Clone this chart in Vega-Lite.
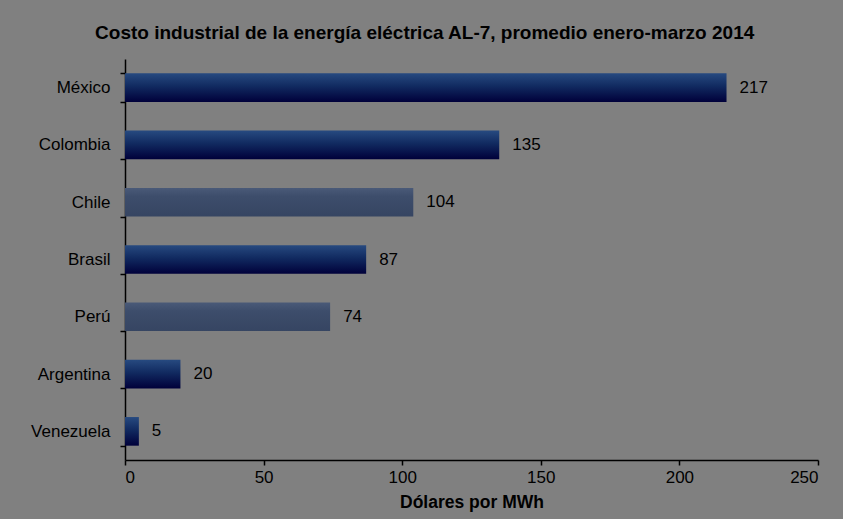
{
  "$schema": "https://vega.github.io/schema/vega-lite/v6.json",
  "width": 693,
  "height": 401,
  "autosize": {"type": "none"},
  "padding": {"left": 125, "top": 59, "right": 25, "bottom": 59},
  "background": "#808080",
  "title": {
    "text": "Costo industrial de la energía eléctrica AL-7, promedio enero-marzo 2014",
    "font": "Liberation Sans",
    "fontSize": 19,
    "fontWeight": "bold",
    "color": "#000000",
    "anchor": "middle",
    "frame": "bounds",
    "offset": 7
  },
  "data": {
    "values": [
      {"pais": "México", "valor": 217, "tipo": "oscuro"},
      {"pais": "Colombia", "valor": 135, "tipo": "oscuro"},
      {"pais": "Chile", "valor": 104, "tipo": "claro"},
      {"pais": "Brasil", "valor": 87, "tipo": "oscuro"},
      {"pais": "Perú", "valor": 74, "tipo": "claro"},
      {"pais": "Argentina", "valor": 20, "tipo": "oscuro"},
      {"pais": "Venezuela", "valor": 5, "tipo": "oscuro"}
    ]
  },
  "encoding": {
    "y": {
      "field": "pais",
      "type": "nominal",
      "sort": ["México", "Colombia", "Chile", "Brasil", "Perú", "Argentina", "Venezuela"],
      "scale": {"paddingInner": 0.5, "paddingOuter": 0.25},
      "axis": {
        "title": null,
        "tickBand": "extent",
        "domainColor": "#000000",
        "domainWidth": 1.5,
        "tickColor": "#000000",
        "tickWidth": 1.5,
        "tickSize": 5,
        "labelFont": "Liberation Sans",
        "labelFontSize": 17,
        "labelColor": "#000000",
        "labelPadding": 10
      }
    },
    "x": {
      "field": "valor",
      "type": "quantitative",
      "scale": {"domain": [0, 250], "nice": false},
      "axis": {
        "title": "Dólares por MWh",
        "values": [0, 50, 100, 150, 200, 250],
        "grid": false,
        "domainColor": "#000000",
        "domainWidth": 1.5,
        "tickColor": "#000000",
        "tickWidth": 1.5,
        "tickSize": 5,
        "labelFont": "Liberation Sans",
        "labelFontSize": 17,
        "labelColor": "#000000",
        "labelPadding": 4,
        "titleFont": "Liberation Sans",
        "titleFontSize": 17.5,
        "titleFontWeight": "bold",
        "titleColor": "#000000",
        "titlePadding": 8
      }
    }
  },
  "layer": [
    {
      "transform": [{"filter": "datum.tipo === 'oscuro'"}],
      "mark": {
        "type": "bar",
        "color": {
          "gradient": "linear",
          "x1": 0, "y1": 0, "x2": 0, "y2": 1,
          "stops": [
            {"offset": 0, "color": "#274a80"},
            {"offset": 0.45, "color": "#112a60"},
            {"offset": 1, "color": "#00003a"}
          ]
        }
      }
    },
    {
      "transform": [{"filter": "datum.tipo === 'claro'"}],
      "mark": {
        "type": "bar",
        "color": {
          "gradient": "linear",
          "x1": 0, "y1": 0, "x2": 0, "y2": 1,
          "stops": [
            {"offset": 0, "color": "#4a5a78"},
            {"offset": 0.3, "color": "#3d4d6b"},
            {"offset": 1, "color": "#364562"}
          ]
        }
      }
    },
    {
      "mark": {
        "type": "text",
        "align": "left",
        "baseline": "middle",
        "dx": 13,
        "font": "Liberation Sans",
        "fontSize": 17,
        "color": "#000000"
      },
      "encoding": {"text": {"field": "valor", "type": "quantitative"}}
    }
  ],
  "config": {"view": {"stroke": null}}
}
